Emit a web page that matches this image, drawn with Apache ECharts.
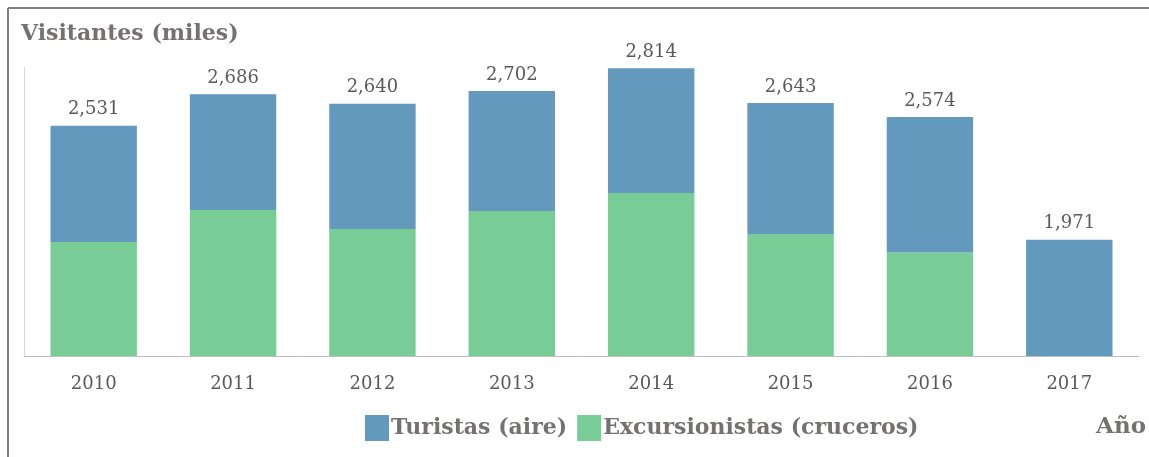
<!DOCTYPE html>
<html>
<head>
<meta charset="utf-8">
<script src="https://cdn.jsdelivr.net/npm/echarts@6/dist/echarts.min.js"></script>
<style>
  html, body { margin: 0; padding: 0; background: #fff; }
  #chart { width: 1149px; height: 457px; }
</style>
</head>
<body>
<div id="chart"></div>
<script>
// años
var years = ["2010", "2011", "2012", "2013", "2014", "2015", "2016", "2017"];
// total visitantes (miles) - etiquetas
var totals = [2531, 2686, 2640, 2702, 2814, 2643, 2574, 1971];
// excursionistas (cruceros)
var excursionistas = [1960, 2117, 2024, 2112, 2201, 2000, 1908, 0];
// turistas (aire) = parte de arriba
var turistas = [571, 569, 616, 590, 613, 643, 666, 1971];

var serif = "'DejaVu Serif', 'Liberation Serif', serif";
var textGrey = "#595959";

var myChart = echarts.init(document.getElementById("chart"));
var option = {
  animation: false,
  textStyle: { fontFamily: serif },
  title: {
    text: "Visitantes (miles)",
    left: 16,
    top: 18,
    textStyle: { fontFamily: serif, fontSize: 22, fontWeight: "bold", color: "#767171" },
  },
  legend: {
    data: ["Turistas (aire)", "Excursionistas (cruceros)"],
    left: 360,
    top: 410,
    itemWidth: 24,
    itemHeight: 26,
    itemGap: 10,
    icon: "rect",
    textStyle: { fontFamily: serif, fontSize: 22, fontWeight: "bold", color: "#767171", padding: [0, 0, 0, -3] },
  },
  grid: {
    left: 24,
    right: 10,
    top: 67,
    bottom: 101,
  },
  xAxis: {
    type: "category",
    data: years,
    axisLine: { lineStyle: { color: "#bfbfbf", width: 1 } },
    axisTick: { show: false },
    axisLabel: { color: textGrey, fontSize: 18, margin: 19, fontFamily: serif },
  },
  yAxis: {
    type: "value",
    min: 1400,
    max: 2820,
    axisLine: { show: true, lineStyle: { color: "#d9d9d9" } },
    axisTick: { show: false },
    axisLabel: { show: false },
    splitLine: { show: false },
  },
  series: [
    {
      name: "Excursionistas (cruceros)",
      type: "bar",
      stack: "total",
      barCategoryGap: "38%",
      data: excursionistas,
      itemStyle: { color: "#78cc96" },
    },
    {
      name: "Turistas (aire)",
      type: "bar",
      stack: "total",
      data: turistas,
      itemStyle: { color: "#6399bc" },
      label: {
        show: true,
        position: "top",
        distance: 7,
        fontSize: 18,
        color: textGrey,
        fontFamily: serif,
        formatter: function (p) {
          return totals[p.dataIndex].toLocaleString("en-US");
        },
      },
    },
  ],
  graphic: [
    // marco
    { type: "line", shape: { x1: 8, y1: 8, x2: 1149, y2: 8 }, style: { stroke: "#808080", lineWidth: 2 } },
    { type: "line", shape: { x1: 8, y1: 8, x2: 8, y2: 457 }, style: { stroke: "#808080", lineWidth: 2 } },
    {
      type: "text",
      right: 3,
      top: 416,
      style: { text: "Año", fontFamily: serif, fontSize: 23, fontWeight: "bold", fill: "#767171" },
    },
  ],
};
myChart.setOption(option);
</script>
</body>
</html>
